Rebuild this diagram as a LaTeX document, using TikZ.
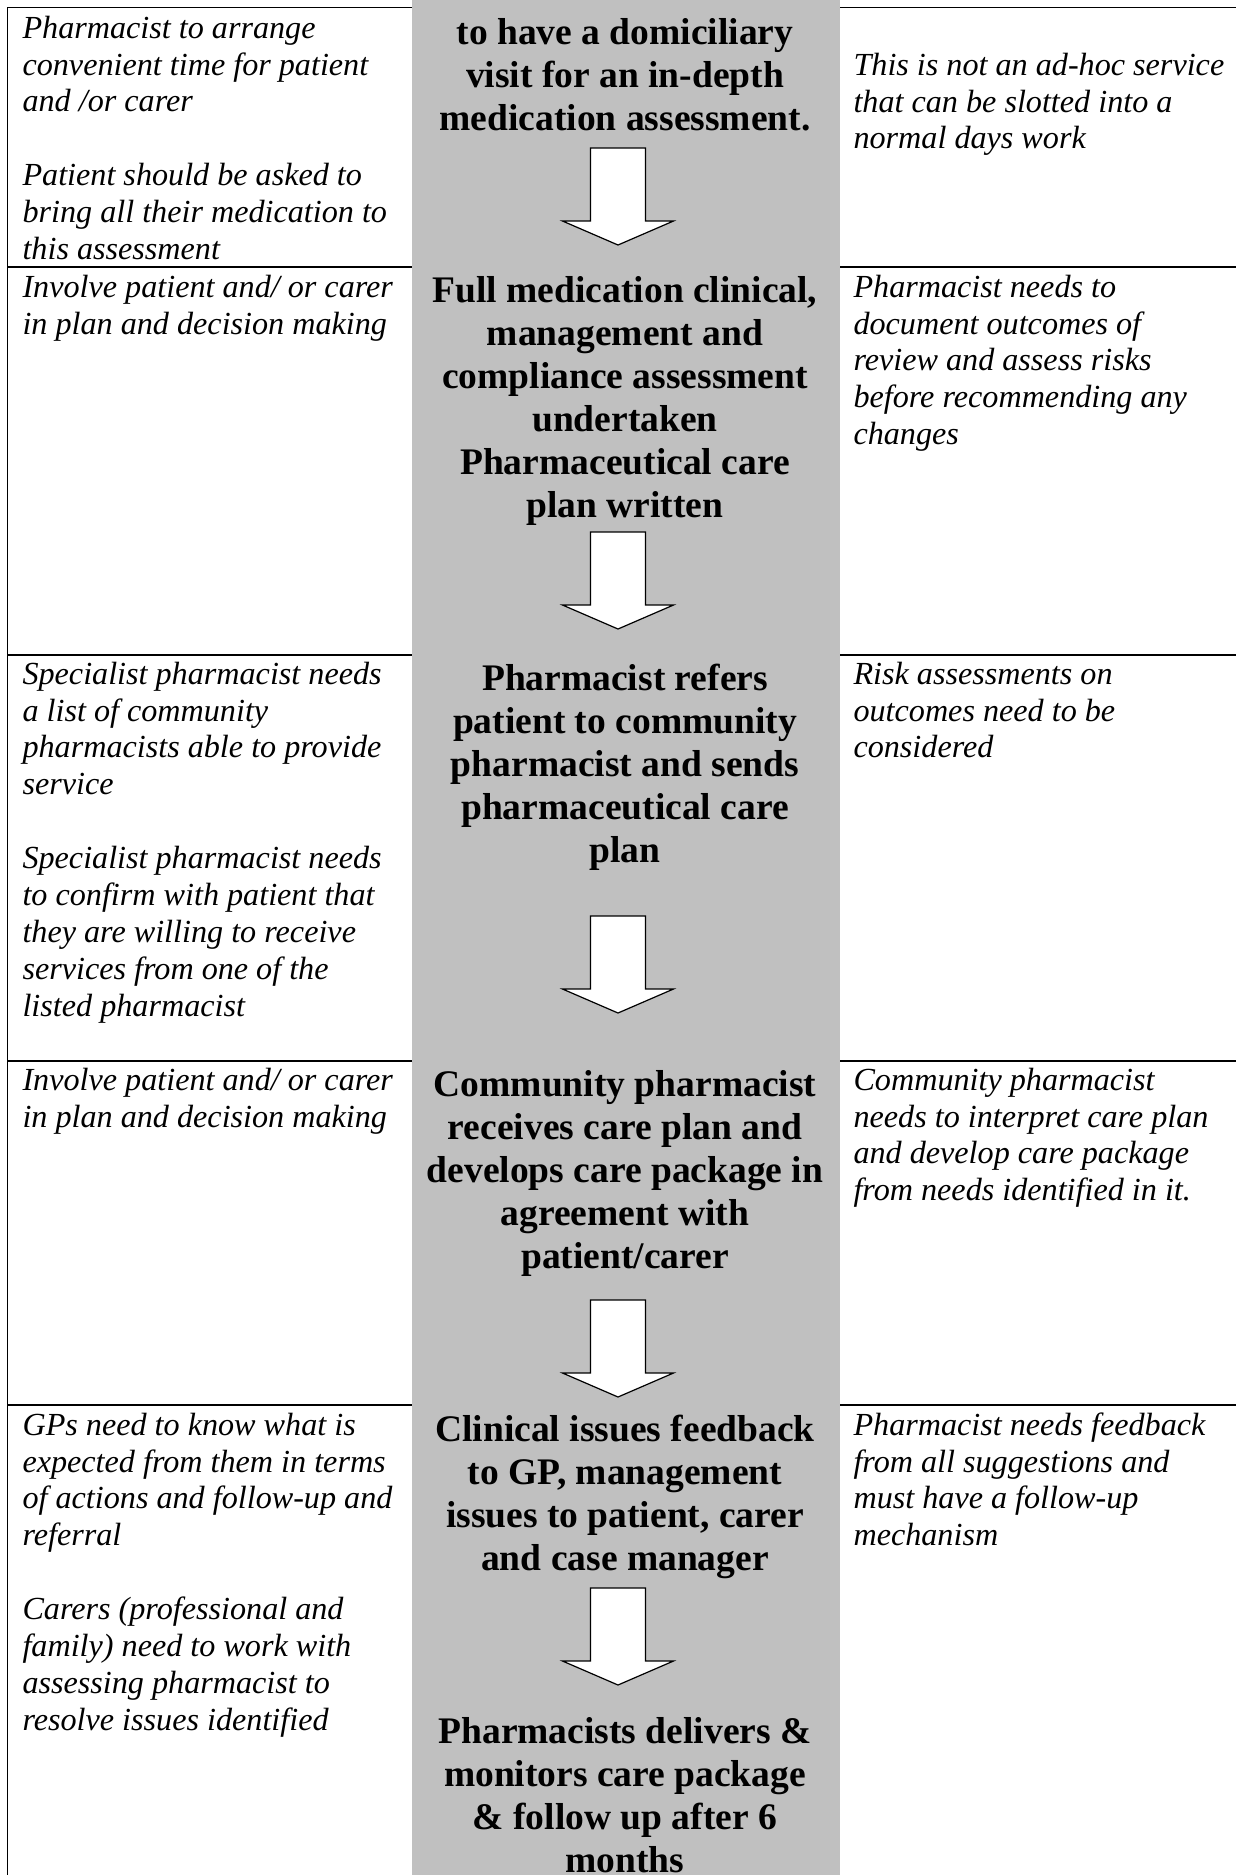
\documentclass[tikz,border=0pt]{standalone}
\usepackage{fontspec}
\setmainfont{Liberation Serif}
\definecolor{cellgrey}{RGB}{192,192,192}
\newcommand{\mynotebox}[1]{\parbox[t]{220pt}{\raggedright #1}}
\newcommand{\mystepbox}[1]{\parbox[t]{180pt}{\centering #1}}
\begin{document}
\begin{tikzpicture}[x=0.3731pt,y=-0.3731pt,
  rule/.style={line width=0.6pt},
  note/.style={anchor=base west,inner sep=0pt,font=\fontsize{12pt}{13.8pt}\selectfont\itshape},
  steptext/.style={anchor=base,inner sep=0pt,font=\fontsize{14pt}{16.1pt}\selectfont\bfseries},
  flowarrow/.pic={\draw[line width=0.45pt,fill=white,line join=miter]
      (-27.5,0) -- (27.5,0) -- (27.5,73) -- (55.5,73) -- (0,97) -- (-55.5,73) -- (-27.5,73) -- cycle;}
]
\useasboundingbox (0,0) rectangle (1236,1875);
\clip (0,0) rectangle (1236,1875);
\fill[white] (0,0) rectangle (1236,1875);
% grey middle column
\fill[cellgrey] (412,0) rectangle (840,1875);
% table rules
\draw[rule] (412,7.3) -- (7.5,7.3) -- (7.5,1875);
\foreach \yy in {267,655,1061,1405}{\draw[rule] (7.5,\yy) -- (412,\yy);}
\foreach \yy in {7.3,267,655,1061,1405}{\draw[rule] (840,\yy) -- (1236,\yy);}
% arrows
\pic at (618,148) {flowarrow};
\pic at (618,532) {flowarrow};
\pic at (618,916) {flowarrow};
\pic at (618,1300) {flowarrow};
\pic at (618,1588) {flowarrow};
% centre column steps
\node[steptext] (c1) at (625,44) {\mystepbox{to have a domiciliary\\visit for an in-depth\\medication assessment.}};
\node[steptext] (c2) at (625,302) {\mystepbox{Full medication clinical,\\management and\\compliance assessment\\undertaken\\Pharmaceutical care\\plan written}};
\node[steptext] (c3) at (625,690) {\mystepbox{Pharmacist refers\\patient to community\\pharmacist and sends\\pharmaceutical care\\plan}};
\node[steptext] (c4) at (625,1096) {\mystepbox{Community pharmacist\\receives care plan and\\develops care package in\\agreement with\\patient/carer}};
\node[steptext] (c5) at (625,1441) {\mystepbox{Clinical issues feedback\\to GP, management\\issues to patient, carer\\and case manager}};
\node[steptext] (c6) at (625,1743) {\mystepbox{Pharmacists delivers \&\\monitors care package\\\& follow up after 6\\months}};
% left notes
\node[note] (l1) at (22,38) {\mynotebox{Pharmacist to arrange\\convenient time for patient\\and /or carer\\[13.8pt]Patient should be asked to\\bring all their medication to\\this assessment}};
\node[note] (l2) at (22,297) {\mynotebox{Involve patient and/ or carer\\in plan and decision making}};
\node[note] (l3) at (22,684) {\mynotebox{Specialist pharmacist needs\\a list of community\\pharmacists able to provide\\service\\[13.8pt]Specialist pharmacist needs\\to confirm with patient that\\they are willing to receive\\services from one of the\\listed pharmacist}};
\node[note] (l4) at (22,1090) {\mynotebox{Involve patient and/ or carer\\in plan and decision making}};
\node[note] (l5) at (22,1435) {\mynotebox{GPs need to know what is\\expected from them in terms\\of actions and follow-up and\\referral\\[13.8pt]Carers (professional and\\family) need to work with\\assessing pharmacist to\\resolve issues identified}};
% right notes
\node[note] (r1) at (853,75) {\mynotebox{This is not an ad-hoc service\\that can be slotted into a\\normal days work}};
\node[note] (r2) at (853,297) {\mynotebox{Pharmacist needs to\\document outcomes of\\review and assess risks\\before recommending any\\changes}};
\node[note] (r3) at (853,684) {\mynotebox{Risk assessments on\\outcomes need to be\\considered}};
\node[note] (r4) at (853,1090) {\mynotebox{Community pharmacist\\needs to interpret care plan\\and develop care package\\from needs identified in it.}};
\node[note] (r5) at (853,1435) {\mynotebox{Pharmacist needs feedback\\from all suggestions and\\must have a follow-up\\mechanism}};
\end{tikzpicture}
\end{document}
